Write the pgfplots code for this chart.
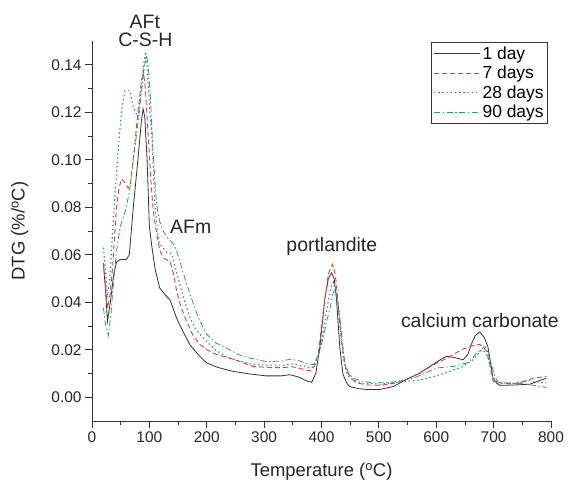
\documentclass[border=0pt]{standalone}
\usepackage{pgfplots}
\pgfplotsset{compat=1.18}
\usepackage{fontspec}
\setmainfont{Liberation Sans}
\definecolor{cblack}{HTML}{333333}
\definecolor{myred}{RGB}{255,50,50}
\definecolor{cblue}{HTML}{2F70FF}
\definecolor{cgreen}{HTML}{2E9E5B}
\begin{document}
\begin{tikzpicture}[x=1bp,y=1bp]
\path[use as bounding box] (-92bp,-67bp) rectangle (476bp,421bp);
\begin{axis}[
  at={(0,0)}, anchor=south west,
  scale only axis,
  width=459bp, height=380bp,
  xmin=0, xmax=800, ymin=-0.01, ymax=0.15,
  axis lines=left,
  axis line style={-, line width=0.9pt, black!80},
  clip=false,
  xtick={0,100,...,800},
  ytick={0,0.02,...,0.14},
  minor x tick num=1,
  minor y tick num=1,
  tick align=outside,
  major tick length=7bp,
  minor tick length=4bp,
  tick style={line width=0.8pt, black!80},
  yticklabel style={/pgf/number format/fixed, /pgf/number format/fixed zerofill, /pgf/number format/precision=2},
  scaled y ticks=false,
  /pgf/number format/assume math mode=true,
  tick label style={font=\fontsize{15.5}{17}\selectfont, text=black!85},
  label style={font=\fontsize{18.5}{20}\selectfont, text=black!85},
  xlabel={Temperature (\textsuperscript{o}C)},
  ylabel={DTG (\%/\textsuperscript{o}C)},
  xlabel style={at={(axis description cs:0.5,-0.1342)}, anchor=center},
  ylabel style={at={(axis description cs:-0.1569,0.5)}, anchor=center},
  legend style={at={(rel axis cs:0.9935,0.997)}, anchor=north east, draw=black!80, line width=0.8pt,
     font=\fontsize{17.5}{19}\selectfont, row sep=1.5pt, inner xsep=2pt, inner ysep=2pt},
  legend cell align=left,
  legend image code/.code={\draw[#1] (0bp,0bp) -- (46bp,0bp);},
]
\addplot[forget plot, color=cblack, line width=0.8pt] coordinates {
(20,0.056) (23,0.047) (27,0.032) (32,0.040) (38,0.052) (43,0.057) (50,0.058) (60,0.058) (65,0.060) (72,0.080) (80,0.100) (86,0.116) (89,0.1215) (92,0.118) (96,0.100) (100,0.072) (104,0.064) (110,0.054) (118,0.046) (128,0.043) (136,0.041) (142,0.037) (148,0.033) (160,0.027) (171,0.022) (185,0.018) (200,0.0144) (220,0.0125) (246,0.0109) (275,0.0098) (304,0.0090) (330,0.0090) (345,0.0095) (360,0.0085) (375,0.0068) (383,0.0063) (390,0.010) (397,0.0207) (406,0.0419) (412,0.050) (417.5,0.0524) (422,0.050) (426,0.0419) (432,0.0207) (437.5,0.0096) (444,0.006) (449,0.0045) (465,0.0036) (478,0.0033) (502,0.0033) (525,0.0045) (548,0.0075) (570,0.010) (589,0.013) (605,0.0155) (618,0.0172) (630,0.0168) (647,0.0158) (655,0.018) (661,0.0222) (668,0.026) (676,0.0275) (684,0.025) (690,0.0213) (695,0.014) (699,0.008) (705,0.006) (711,0.005) (740,0.0052) (763,0.0055) (780,0.007) (792,0.008)
};
\addplot[forget plot, color=myred, line width=0.9pt, dash pattern=on 5bp off 3bp] coordinates {
(20,0.0566) (24,0.045) (27,0.0376) (31,0.042) (36,0.055) (42.6,0.080) (47,0.088) (51.7,0.092) (58,0.090) (63,0.088) (67,0.090) (74,0.105) (80,0.120) (86,0.133) (89.4,0.1377) (93,0.130) (98,0.110) (103,0.090) (106.8,0.0785) (112,0.070) (118,0.062) (124,0.0588) (136,0.057) (142,0.052) (147.6,0.0447) (155,0.038) (165,0.032) (176,0.026) (188,0.0222) (200,0.020) (217,0.018) (246,0.016) (281,0.013) (310,0.0125) (333,0.0125) (350,0.0128) (365,0.0120) (380,0.011) (388,0.013) (395,0.0193) (403,0.036) (412,0.052) (419,0.056) (423,0.053) (426,0.0475) (430,0.036) (435,0.0235) (440,0.015) (444,0.011) (452,0.008) (461,0.006) (480,0.0052) (502,0.005) (530,0.006) (560,0.0088) (580,0.0115) (601,0.0144) (615,0.016) (630,0.018) (644,0.020) (659,0.0214) (668,0.022) (676,0.0222) (682,0.021) (688,0.0193) (694,0.013) (699,0.0068) (710,0.006) (734,0.0057) (750,0.0065) (769,0.008) (792,0.0088)
};
\addplot[forget plot, color=cblue, line width=1.1pt, dash pattern=on 1.4bp off 2.8bp] coordinates {
(20,0.063) (24,0.052) (27,0.042) (31,0.050) (36,0.070) (42.6,0.094) (47,0.108) (51.7,0.121) (57.5,0.129) (66,0.129) (72,0.122) (80,0.118) (86,0.130) (90,0.140) (93.5,0.1455) (97,0.135) (101,0.120) (104,0.112) (107,0.095) (110,0.080) (114,0.070) (118.5,0.0644) (130,0.061) (138.7,0.0605) (145,0.055) (153,0.0475) (162,0.040) (171,0.0334) (180,0.029) (188,0.0265) (200,0.0235) (215,0.020) (235,0.017) (260,0.015) (281,0.0138) (310,0.0135) (333,0.0135) (350,0.014) (370,0.013) (383,0.0123) (392,0.015) (400,0.0235) (410,0.038) (416,0.046) (421,0.0485) (425,0.045) (429.6,0.0376) (434,0.026) (438,0.0165) (443,0.011) (449,0.008) (470,0.006) (502,0.0055) (540,0.0065) (578,0.0075) (613,0.010) (630,0.0115) (647,0.013) (664,0.0158) (672,0.018) (679,0.020) (685,0.019) (690,0.017) (696,0.011) (702,0.0068) (720,0.006) (740,0.0057) (760,0.007) (775,0.0065) (792,0.006)
};
\addplot[forget plot, color=cgreen, line width=0.8pt, dash pattern=on 6bp off 2.5bp on 1.5bp off 2.5bp] coordinates {
(20,0.0376) (24,0.030) (28.5,0.026) (33,0.035) (38,0.050) (43,0.062) (48.8,0.0715) (55,0.076) (60,0.080) (66,0.088) (72,0.100) (80,0.115) (87,0.130) (92,0.140) (95,0.144) (98,0.140) (102,0.125) (106,0.105) (110,0.090) (112.6,0.081) (118,0.074) (124,0.070) (132,0.067) (141.7,0.0645) (147,0.062) (153,0.0574) (162,0.050) (171,0.0433) (180,0.037) (188,0.032) (200,0.0265) (215,0.023) (234.6,0.0207) (255,0.018) (275,0.0165) (304,0.015) (330,0.0152) (345,0.016) (360,0.0155) (375,0.014) (386,0.0138) (395,0.018) (403,0.025) (409,0.032) (415,0.0376) (419,0.043) (423,0.0455) (427,0.042) (432,0.0334) (437,0.022) (441,0.0138) (448,0.010) (455,0.008) (470,0.0068) (490,0.006) (520,0.0062) (560,0.008) (601,0.0123) (630,0.013) (653,0.0144) (662,0.016) (670,0.0187) (678,0.020) (685,0.0213) (690,0.019) (696,0.0138) (702,0.009) (708,0.006) (740,0.006) (770,0.005) (792,0.0041)
};
\addlegendimage{color=cblack, line width=0.8pt}
\addlegendentry{1 day}
\addlegendimage{color=myred, line width=0.9pt, dash pattern=on 5bp off 3bp}
\addlegendentry{7 days}
\addlegendimage{color=cblue, line width=1.1pt, dash pattern=on 1.4bp off 2.8bp}
\addlegendentry{28 days}
\addlegendimage{color=cgreen, line width=0.8pt, dash pattern=on 6bp off 2.5bp on 1.5bp off 2.5bp}
\addlegendentry{90 days}
\node[font=\fontsize{19.5}{21}\selectfont, text=black!85] at (axis cs:92,0.1582) {AFt};
\node[font=\fontsize{19.5}{21}\selectfont, text=black!85] at (axis cs:93,0.1507) {C-S-H};
\node[font=\fontsize{19.5}{21}\selectfont, text=black!85] at (axis cs:172,0.0718) {AFm};
\node[font=\fontsize{19.5}{21}\selectfont, text=black!85] at (axis cs:418,0.0635) {portlandite};
\node[font=\fontsize{19.5}{21}\selectfont, text=black!85] at (axis cs:676,0.0325) {calcium carbonate};
\end{axis}
\end{tikzpicture}
\end{document}
